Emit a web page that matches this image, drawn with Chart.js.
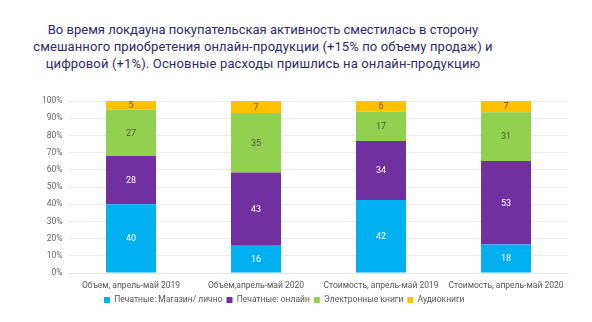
<!DOCTYPE html>
<html>
<head>
<meta charset="utf-8">
<script src="https://cdn.jsdelivr.net/npm/chart.js@4"></script>
<style>
    body { margin: 0; background: #fff; width: 592px; height: 322px; overflow: hidden; position: relative; }
    #titre {
        position: absolute; top: 21px; left: 0; width: 526px;
        text-align: center; font-family: Roboto, sans-serif; font-size: 13px;
        line-height: 17px; color: #2c2a6b; white-space: nowrap;
    }
    #titre span { display: block; }
    #boite { position: absolute; left: 0; top: 90px; width: 592px; height: 232px; }
</style>
</head>
<body>
<div id="titre">
    <span style="letter-spacing:0px">Во время локдауна покупательская активность сместилась в сторону</span>
    <span style="letter-spacing:0.1px">смешанного приобретения онлайн-продукции (+15% по объему продаж) и</span>
    <span style="letter-spacing:0.15px">цифровой (+1%). Основные расходы пришлись на онлайн-продукцию</span>
</div>
<div id="boite"><canvas id="graphique"></canvas></div>
<script>
// catégories et séries
const categories = ["Объем, апрель-май 2019", "Объем,апрель-май 2020", "Стоимость, апрель-май 2019", "Стоимость, апрель-май 2020"];
const pechatMagazin = [40, 16, 42, 18];
const pechatOnline = [28, 43, 34, 53];
const electronnye = [27, 35, 17, 31];
const audio = [5, 7, 6, 7];

const series = [pechatMagazin, pechatOnline, electronnye, audio];

// ramène chaque colonne à 100%
const totaux = categories.map((c, i) => series.reduce((s, serie) => s + serie[i], 0));
const enPourcent = serie => serie.map((v, i) => v / totaux[i] * 100);

// affiche la valeur brute au milieu de chaque segment
const etiquettes = {
    id: 'etiquettes',
    afterDatasetsDraw(chart) {
        const ctx = chart.ctx;
        ctx.save();
        ctx.font = '9px Roboto, sans-serif';
        ctx.textAlign = 'center';
        ctx.textBaseline = 'middle';
        chart.data.datasets.forEach((ds, d) => {
            const meta = chart.getDatasetMeta(d);
            meta.data.forEach((bar, i) => {
                ctx.fillStyle = ds.couleurTexte;
                ctx.fillText(ds.brut[i], bar.x, (bar.y + bar.base) / 2 + 0.5);
            });
        });
        ctx.restore();
    }
};

const config = {
    type: 'bar',
    data: {
        labels: categories,
        datasets: [{
            label: 'Печатные: Магазин/ лично',
            backgroundColor: '#00b0f0',
            data: enPourcent(pechatMagazin),
            brut: pechatMagazin,
            couleurTexte: '#ffffff'
        }, {
            label: 'Печатные: онлайн',
            backgroundColor: '#7030a0',
            data: enPourcent(pechatOnline),
            brut: pechatOnline,
            couleurTexte: '#ffffff'
        }, {
            label: 'Электронные книги',
            backgroundColor: '#92d050',
            data: enPourcent(electronnye),
            brut: electronnye,
            couleurTexte: '#4a5a3a'
        }, {
            label: 'Аудиокниги',
            backgroundColor: '#ffc000',
            data: enPourcent(audio),
            brut: audio,
            couleurTexte: '#6a5a2a'
        }]
    },
    options: {
        responsive: true,
        maintainAspectRatio: false,
        animation: false,
        datasets: { bar: { barPercentage: 0.4, categoryPercentage: 1, borderWidth: 0 } },
        layout: { padding: { top: 10, right: 23.5, bottom: 7.75, left: 0 } },
        plugins: {
            legend: {
                position: 'bottom',
                labels: {
                    boxWidth: 6, boxHeight: 6, padding: 4,
                    color: '#555', font: { family: 'Roboto, sans-serif', size: 8.5 }
                }
            },
            title: { display: false },
            tooltip: { enabled: false }
        },
        scales: {
            x: {
                stacked: true,
                afterFit: axe => { axe.height = 18.75; },
                grid: { display: false, drawTicks: false },
                border: { color: '#e6e6e6' },
                ticks: {
                    color: '#555', padding: 7.5, maxRotation: 0, autoSkip: false,
                    font: { family: 'Roboto, sans-serif', size: 8.5 }
                }
            },
            y: {
                stacked: true,
                min: 0, max: 100,
                afterFit: axe => { axe.width = 68.5; },
                grid: { color: '#ececec', drawTicks: false },
                border: { display: false },
                ticks: {
                    stepSize: 10, padding: 6, color: '#666',
                    font: { family: 'Roboto, sans-serif', size: 8.5 },
                    callback: v => v + '%'
                }
            }
        }
    },
    plugins: [etiquettes]
};

new Chart(document.getElementById('graphique').getContext('2d'), config);
</script>
</body>
</html>
